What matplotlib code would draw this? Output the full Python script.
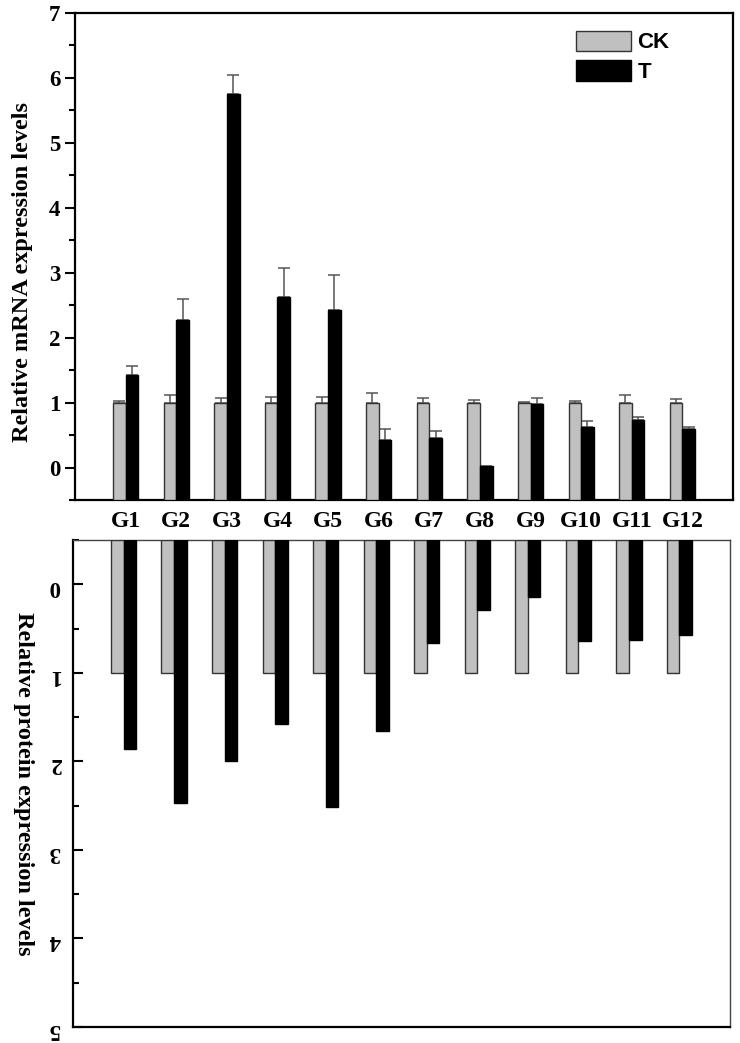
import numpy as np
import matplotlib
matplotlib.use("Agg")
import matplotlib.pyplot as plt
from matplotlib.ticker import MultipleLocator

categories = ["G1", "G2", "G3", "G4", "G5", "G6", "G7", "G8", "G9", "G10", "G11", "G12"]
series_names = ["CK", "T"]

mrna_ck = [1.0] * 12
mrna_ck_err = [0.03, 0.12, 0.07, 0.08, 0.09, 0.155, 0.07, 0.04, 0.01, 0.03, 0.12, 0.06]
mrna_t = [1.43, 2.27, 5.76, 2.63, 2.42, 0.42, 0.46, 0.03, 0.975, 0.62, 0.725, 0.59]
mrna_t_err = [0.13, 0.32, 0.29, 0.44, 0.55, 0.17, 0.11, np.nan, 0.10, 0.10, 0.06, 0.03]

prot_ck = [1.0] * 12
prot_t = [1.86, 2.475, 2.0, 1.58, 2.52, 1.66, 0.66, 0.29, 0.14, 0.64, 0.63, 0.57]

mrna_ticks = [0, 1, 2, 3, 4, 5, 6, 7]
prot_ticks = [0, 1, 2, 3, 4, 5]

SERIF = ["Liberation Serif", "DejaVu Serif"]
SANS = ["Liberation Sans", "DejaVu Sans"]
GREY = "#c0c0c0"

W, H = 740, 1043
fig = plt.figure(figsize=(W / 100, H / 100), dpi=100)

def frac(l, t, r, b):
    return [l / W, 1 - b / H, (r - l) / W, (b - t) / H]

ax1 = fig.add_axes(frac(75, 13, 733, 500))
ax2 = fig.add_axes(frac(73, 540, 730, 1027))

x = np.arange(1, len(categories) + 1)
w = 0.25
base = -0.5

# ---- top panel: mRNA
ax1.bar(x - w / 2, np.array(mrna_ck) - base, bottom=base, width=w, color=GREY,
        edgecolor="#333333", linewidth=1.0, label=series_names[0], zorder=3)
ax1.bar(x + w / 2, np.array(mrna_t) - base, bottom=base, width=w, color="black",
        edgecolor="black", linewidth=1.0, label=series_names[1], zorder=3)
ax1.errorbar(x - w / 2, mrna_ck, yerr=[np.zeros(12), mrna_ck_err], fmt="none",
             ecolor="#555555", elinewidth=1.1, capsize=4.5, capthick=1.1, zorder=2)
ax1.errorbar(x + w / 2, mrna_t, yerr=[np.zeros(12), mrna_t_err], fmt="none",
             ecolor="#555555", elinewidth=1.1, capsize=4.5, capthick=1.1, zorder=2)
ax1.set_xlim(0, 13)
ax1.set_ylim(-0.5, 7)
ax1.set_yticks(mrna_ticks)
ax1.yaxis.set_minor_locator(MultipleLocator(0.5))
ax1.set_xticks(x)
ax1.set_xticklabels(categories, fontfamily=SERIF, fontweight="bold", fontsize=17)
ax1.tick_params(axis="x", length=0, pad=8)
ax1.tick_params(axis="y", which="major", direction="out", length=7, width=1.5,
                labelsize=16.5, pad=3.5)
ax1.tick_params(axis="y", which="minor", direction="out", length=4, width=1.5)
for lab in ax1.get_yticklabels():
    lab.set_fontfamily(SERIF)
    lab.set_fontweight("bold")
for s in ax1.spines.values():
    s.set_linewidth(1.6)
ax1.set_ylabel("Relative mRNA expression levels", fontfamily=SERIF,
               fontweight="bold", fontsize=17.5)
ax1.yaxis.set_label_coords(-0.064, 0.468)
leg = ax1.legend(loc="upper left", bbox_to_anchor=(0.762, 0.964), frameon=False,
                 prop={"family": SANS, "weight": "bold", "size": 16},
                 handlelength=2.45, handleheight=1.05, labelspacing=0.3,
                 handletextpad=0.3, borderpad=0, borderaxespad=0)

# ---- bottom panel: protein (inverted)
ax2.bar(x - w / 2, np.array(prot_ck) - base, bottom=base, width=w, color=GREY,
        edgecolor="#333333", linewidth=1.0, zorder=3)
ax2.bar(x + w / 2, np.array(prot_t) - base, bottom=base, width=w, color="black",
        edgecolor="black", linewidth=1.0, zorder=3)
ax2.set_xlim(0, 13)
ax2.set_ylim(5, -0.5)
ax2.set_yticks(prot_ticks)
ax2.yaxis.set_minor_locator(MultipleLocator(0.5))
ax2.set_xticks([])
ax2.tick_params(axis="y", which="major", direction="in", length=7, width=1.5,
                labelsize=16.5, pad=9)
ax2.tick_params(axis="y", which="minor", direction="in", length=4, width=1.5)
for lab in ax2.get_yticklabels():
    lab.set_fontfamily(SERIF)
    lab.set_fontweight("bold")
    lab.set_rotation(180)
ax2.spines["left"].set_linewidth(1.6)
ax2.spines["bottom"].set_linewidth(1.6)
ax2.spines["top"].set_linewidth(1.0)
ax2.spines["top"].set_color("#444444")
ax2.spines["right"].set_linewidth(1.0)
ax2.spines["right"].set_color("#444444")
ax2.set_ylabel("Relative protein expression levels", fontfamily=SERIF,
               fontweight="bold", fontsize=17.5, rotation=270)
ax2.yaxis.set_label_coords(-0.091, 0.5)

fig.savefig("out.png", dpi=100)
